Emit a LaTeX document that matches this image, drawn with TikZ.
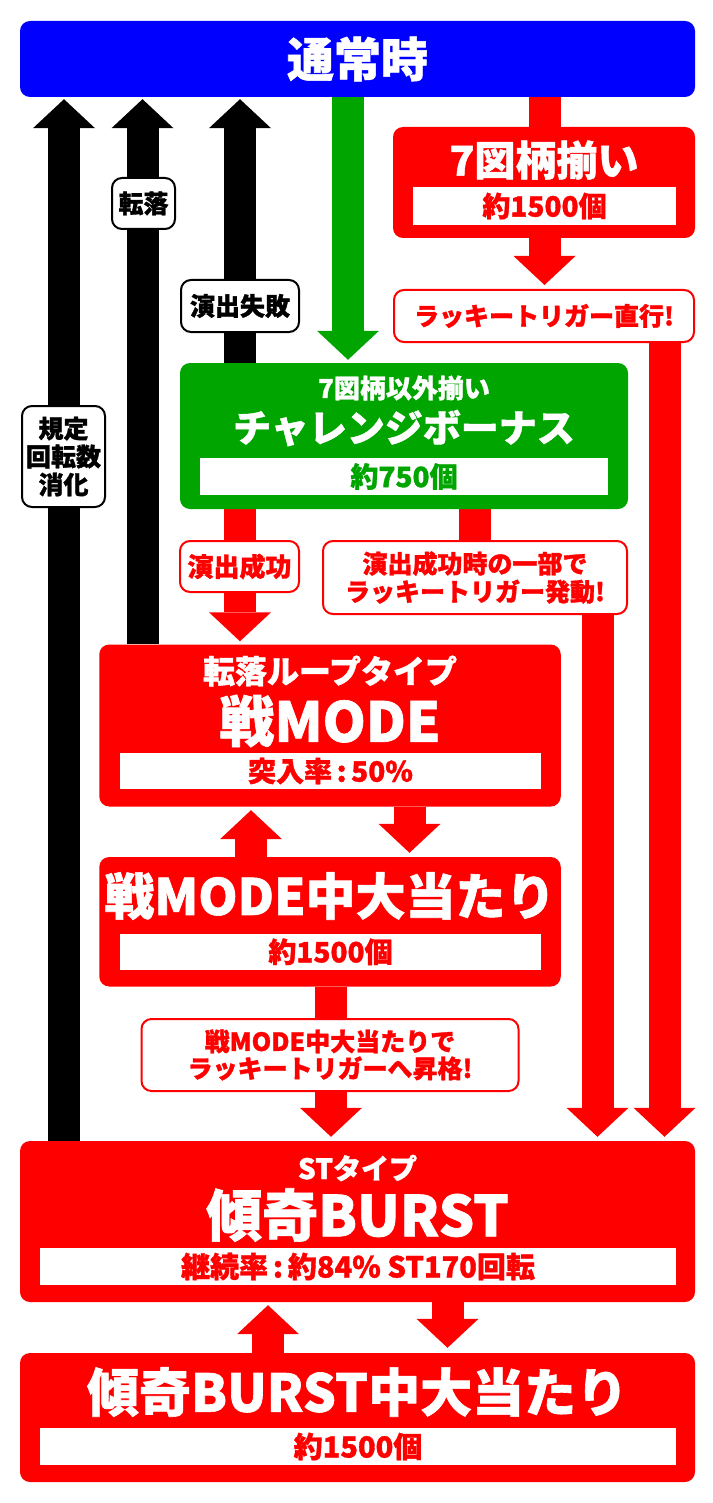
\documentclass[tikz,border=0pt]{standalone}
\usepackage{fontspec}
\setmainfont{Noto Sans CJK JP}[BoldFeatures={FakeBold=1.2}]
\usetikzlibrary{arrows.meta,positioning}
\definecolor{pachired}{RGB}{255,0,0}
\definecolor{pachiblue}{RGB}{0,0,255}
\definecolor{pachigreen}{RGB}{0,165,0}
\newcommand\fsz[1]{\fontsize{#1}{#1}\selectfont\bfseries}
\pgfdeclarelayer{back}
\pgfsetlayers{back,main}
\tikzset{bluebox/.style={fill=pachiblue,rounded corners=10pt,inner sep=0pt},
  redbox/.style={fill=pachired,rounded corners=10pt,inner sep=0pt},
  greenbox/.style={fill=pachigreen,rounded corners=10pt,inner sep=0pt},
  whitebar/.style={fill=white,inner sep=0pt},
  boxtext/.style={text=white,inner sep=0pt},
  blacktag/.style={draw=black,line width=2pt,fill=white,rounded corners=10pt,inner sep=0pt,align=center},
  redtag/.style={blacktag,draw=pachired,text=pachired},
  shaft/.style={line width=32pt},
  arr/.style={shaft,-{Triangle[width=62pt,length=29pt,line width=0pt]}}}

\begin{document}
\begin{tikzpicture}[x=1pt,y=-1pt]
        \useasboundingbox (0,0) rectangle (712,1503);

        % boxes
        \node[bluebox,minimum width=675pt,minimum height=76pt,text=white,font=\fsz{47}] (normal) at (357.5,59) {通常時};

        \node[redbox,minimum width=302pt,minimum height=111pt] (seven) at (544,182.5) {};
        \node[boxtext,font=\fsz{41}] (sevent) at (544,160) {7図柄揃い};
        \node[whitebar,minimum width=263pt,minimum height=38pt,text=pachired,font=\fsz{28}] (sevenv) at (544.5,206) {約1500個};

        \node[greenbox,minimum width=448pt,minimum height=146pt] (challenge) at (404,436) {};
        \node[boxtext,font=\fsz{26}] (challenget) at (404,388) {7図柄以外揃い};
        \node[boxtext,font=\fsz{38}] (challengen) at (404,428) {チャレンジボーナス};
        \node[whitebar,minimum width=408pt,minimum height=37pt,text=pachigreen,font=\fsz{28}] (challengev) at (404,476.5) {約750個};

        \node[redbox,minimum width=461.5pt,minimum height=162pt] (senmode) at (330,725.5) {};
        \node[boxtext,font=\fsz{32}] (senmodet) at (330,671) {転落ループタイプ};
        \node[boxtext,font=\fsz{55}] (senmoden) at (330,721) {戦MODE};
        \node[whitebar,minimum width=421pt,minimum height=36pt,text=pachired,font=\fsz{28}] (senmodev) at (330.5,771) {突入率\,:\,50\%};

        \node[redbox,minimum width=461.5pt,minimum height=129.5pt] (senhit) at (330,921.75) {};
        \node[boxtext,font=\fsz{50}] (senhitt) at (330,896) {戦MODE中大当たり};
        \node[whitebar,minimum width=421pt,minimum height=36.5pt,text=pachired,font=\fsz{28}] (senhitv) at (330.5,951.75) {約1500個};

        \node[redbox,minimum width=675pt,minimum height=161pt] (st) at (357.5,1221.5) {};
        \node[boxtext,font=\fsz{28}] (stt) at (357.5,1168) {STタイプ};
        \node[boxtext,font=\fsz{56}] (stn) at (357.5,1215) {傾奇BURST};
        \node[whitebar,minimum width=636pt,minimum height=37pt,text=pachired,font=\fsz{29}] (stv) at (358,1266.5) {継続率\,:\,約84\% ST170回転};

        \node[redbox,minimum width=675pt,minimum height=129pt] (bursthit) at (357.5,1417.5) {};
        \node[boxtext,font=\fsz{52}] (bursthitt) at (357.5,1392) {傾奇BURST中大当たり};
        \node[whitebar,minimum width=636pt,minimum height=37pt,text=pachired,font=\fsz{29}] (bursthitv) at (358,1446.5) {約1500個};

        % tags
        \node[redtag,minimum width=300pt,minimum height=52pt,font=\fsz{25}] (lucky1) at (544,316) {ラッキートリガー直行!};
        \node[blacktag,minimum width=63pt,minimum height=51pt,font=\fsz{25}] (tenraku) at (143.5,203.5) {転落};
        \node[blacktag,minimum width=118pt,minimum height=52pt,font=\fsz{25}] (shippai) at (240,306) {演出失敗};
        \node[blacktag,minimum width=83pt,minimum height=101pt,font=\fsz{25}] (kitei) at (63.5,456.5) {規定\\[3pt]回転数\\[3pt]消化};
        \node[redtag,minimum width=119pt,minimum height=51pt,font=\fsz{26}] (seiko) at (239.5,566.5) {演出成功};
        \node[redtag,minimum width=304pt,minimum height=73pt,font=\fsz{25}] (lucky2) at (475,577.5) {演出成功時の一部で\\[3pt]ラッキートリガー発動!};
        \node[redtag,minimum width=377pt,minimum height=72pt,font=\fsz{25}] (lucky3) at (330,1055) {戦MODE中大当たりで\\[2pt]ラッキートリガーへ昇格!};

        % columns
        \coordinate (ka) at (64,0);
        \coordinate (kb) at (142.5,0);
        \coordinate (kc) at (240,0);
        \coordinate (kg) at (348,0);
        \coordinate (ks) at (544.5,0);
        \coordinate (kr) at (664.5,0);
        \coordinate (kl) at (474.5,0);
        \coordinate (kq) at (597.5,0);
        \coordinate (ku) at (251,0);
        \coordinate (kd) at (409.5,0);
        \coordinate (km) at (331,0);
        \coordinate (kbu) at (268,0);
        \coordinate (kbd) at (447.5,0);

        \begin{pgfonlayer}{back}
        \draw[arr,black,shorten >=2pt] (st.north -| ka) -- (normal.south -| ka);
        \draw[arr,black,shorten >=2pt] (senmode.north -| kb) -- (normal.south -| kb);
        \draw[arr,black,shorten >=2pt] (challenge.north -| kc) -- (normal.south -| kc);
        \draw[arr,pachigreen,shorten >=3pt] (normal.south -| kg) -- (challenge.north -| kg);
        \draw[shaft,pachired] (normal.south -| ks) -- (seven.north -| ks);
        \draw[arr,pachired,shorten >=4pt] (seven.south -| ks) -- (lucky1.north -| ks);
        \draw[arr,pachired,shorten >=4pt] (lucky1.south -| kr) -- (st.north -| kr);
        \draw[shaft,pachired] (challenge.south -| kc) -- (seiko.north -| kc);
        \draw[arr,pachired,shorten >=3pt] (seiko.south -| kc) -- (senmode.north -| kc);
        \draw[shaft,pachired] (challenge.south -| kl) -- (lucky2.north -| kl);
        \draw[arr,pachired,shorten >=4pt] (lucky2.south -| kq) -- (st.north -| kq);
        \draw[arr,pachired,shorten >=4pt] (senmode.south -| kd) -- (senhit.north -| kd);
        \draw[arr,pachired,shorten >=3.5pt] (senhit.north -| ku) -- (senmode.south -| ku);
        \draw[shaft,pachired] (senhit.south -| km) -- (lucky3.north -| km);
        \draw[arr,pachired,shorten >=4pt] (lucky3.south -| km) -- (st.north -| km);
        \draw[arr,pachired,shorten >=5pt] (st.south -| kbd) -- (bursthit.north -| kbd);
        \draw[arr,pachired,shorten >=3pt] (bursthit.north -| kbu) -- (st.south -| kbu);
        \end{pgfonlayer}
    \end{tikzpicture}
\end{document}
